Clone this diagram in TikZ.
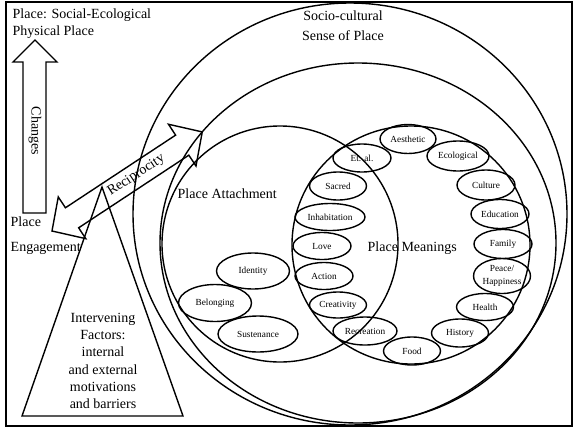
\documentclass[tikz,border=0pt]{standalone}
\usepackage{fontspec}
\setmainfont{Liberation Serif}
\usetikzlibrary{shapes.geometric}

\begin{document}
\begin{tikzpicture}[x=1pt, y=-1pt, line width=1.4pt, line join=miter,
    biglabel/.style={font=\fontsize{14}{17}\selectfont, inner sep=0pt},
    meaning/.style={draw, ellipse, inner sep=0pt, minimum width=58pt, minimum height=28pt,
      font=\fontsize{9.3}{13}\selectfont, align=center}]
  \useasboundingbox (0,0) rectangle (576,429);

  % Frame
  \draw[line width=1.8pt] (6,2) rectangle (572,426);

  % Circles of the sense of place
  \draw (350,214) ellipse [x radius=217pt, y radius=211pt];
  \draw (358,243) ellipse [x radius=198pt, y radius=180pt];
  \draw (280,244) circle (118pt);
  \draw (411,245) circle (119pt);

  % Labels
  \node[biglabel, anchor=north west, align=left] (place) at (12,8.4) {Place: Social-Ecological\\Physical Place};
  \node[biglabel, anchor=north, align=center, font=\fontsize{14}{20}\selectfont] (socio) at (343,10.4) {Socio-cultural\\Sense of Place};
  \node[biglabel, anchor=base west] (attach) at (177,198) {Place Attachment};
  \node[biglabel, anchor=base west] (meanings) at (367,251) {Place Meanings};
  \node[biglabel, anchor=north west, align=left, font=\fontsize{14}{25}\selectfont] (engage) at (10,216.4) {Place\\Engagement};

  % Changes arrow
  \draw (35,40) -- (57,62) -- (46,62) -- (46,213) -- (23,213) -- (23,62) -- (13,62) -- cycle;
  \node[biglabel, rotate=-90] (changes) at (35,131) {Changes};

  % Reciprocity arrow
  \begin{scope}[shift={(52,231)}, rotate=33.4]
    \draw (0,0) -- (24,-25) -- (24,-12) -- (156,-12) -- (156,-25) -- (180,0)
      -- (156,25) -- (156,12) -- (24,12) -- (24,25) -- cycle;
    \node[biglabel, rotate=33.4] (recip) at (101,0) {Reciprocity};
  \end{scope}

  % Intervening factors
  \draw (102,187) -- (183,416) -- (22,416) -- cycle;
  \node[biglabel, align=center, font=\fontsize{14}{17.3}\selectfont] (factors) at (103,361)
    {Intervening\\Factors:\\internal\\and external\\motivations\\and barriers};

  % Place attachment
  \node[meaning, minimum width=73pt, minimum height=36pt] (identity) at (253,271) {Identity};
  \node[meaning, minimum width=73pt, minimum height=37pt] (belonging) at (215,303) {Belonging};
  \node[meaning, minimum width=80pt, minimum height=36pt] (sustenance) at (258,334) {Sustenance};

  % Place meanings
  \node[meaning, minimum width=56pt, minimum height=29pt] (aesthetic) at (408,139) {Aesthetic};
  \node[meaning] (etal) at (362,158) {Et. al.};
  \node[meaning, minimum width=62pt, minimum height=30pt] (ecological) at (458,156) {Ecological};
  \node[meaning, minimum width=57pt] (sacred) at (338,186) {Sacred};
  \node[meaning, minimum height=30pt] (culture) at (486,185) {Culture};
  \node[meaning, minimum width=70pt, minimum height=27pt] (inhabitation) at (330,217) {Inhabitation};
  \node[meaning, minimum height=29pt] (education) at (500,214) {Education};
  \node[meaning, minimum height=27pt] (love) at (322,246) {Love};
  \node[meaning, minimum height=29pt] (family) at (503,244) {Family};
  \node[meaning, minimum height=27pt] (action) at (324,276) {Action};
  \node[meaning, minimum width=57pt, minimum height=35pt] (peace) at (502,276) {Peace/\\Happiness};
  \node[meaning, minimum width=57pt, minimum height=26pt] (creativity) at (338,305) {Creativity};
  \node[meaning, minimum width=57pt, minimum height=27pt] (health) at (485,307) {Health};
  \node[meaning, minimum width=64pt] (recreation) at (365,331) {Recreation};
  \node[meaning, minimum width=57pt] (history) at (460,333) {History};
  \node[meaning, minimum width=57pt] (food) at (412,351) {Food};
\end{tikzpicture}
\end{document}
